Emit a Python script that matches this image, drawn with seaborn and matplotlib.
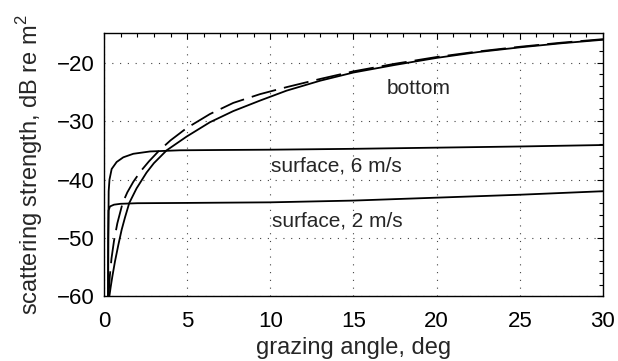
import numpy as np
import pandas as pd
import matplotlib
matplotlib.use("Agg")
import matplotlib.pyplot as plt
import seaborn as sns
from matplotlib.ticker import MultipleLocator

# --- data ---
bottom_x = [0.32, 0.40, 0.50, 0.66, 0.86, 1.06, 1.26, 1.52, 1.96, 2.56, 3.0, 3.77,
            4.97, 6.37, 7.77, 9.38, 10.98, 13.0, 15.0, 17.5, 20.0, 22.5, 25.0, 27.5, 30.0]
bottom_solid = [-60.0, -58.4, -56.6, -54.0, -51.2, -48.6, -46.5, -44.0, -41.5, -38.8, -37.2, -35.0,
                -32.65, -30.2, -28.3, -26.5, -24.8, -23.1, -21.7, -20.4, -19.2, -18.2, -17.4, -16.7, -16.1]

dashed_x = [0.27, 0.35, 0.45, 0.60, 0.80, 1.12, 1.40, 1.76, 2.2, 2.7, 3.3, 4.0,
            4.97, 6.37, 7.77, 9.38, 10.98, 13.0, 15.0, 17.5, 20.0, 22.5, 25.0, 27.5, 30.0]
bottom_dashed = [-60.0, -56.5, -53.5, -50.5, -47.5, -44.0, -42.2, -40.4, -38.6, -36.9, -35.1, -33.3,
                 -31.2, -28.8, -26.9, -25.4, -24.2, -22.8, -21.5, -20.2, -19.05, -18.1, -17.3, -16.6, -16.0]

s6_x = [0.25, 0.26, 0.28, 0.33, 0.46, 0.76, 1.16, 1.76, 2.77, 4.57, 7.0, 10.0, 15.0, 20.0, 25.0, 30.0]
surface_6 = [-60.0, -50.0, -42.0, -40.0, -38.2, -37.0, -36.2, -35.6, -35.2, -35.0, -34.95, -34.9,
             -34.75, -34.55, -34.35, -34.1]

s2_x = [0.24, 0.25, 0.27, 0.36, 0.6, 1.0, 2.0, 5.0, 10.0, 15.0, 20.0, 25.0, 30.0]
surface_2 = [-60.0, -50.0, -45.3, -44.6, -44.3, -44.15, -44.05, -44.0, -43.9, -43.6, -43.1, -42.6, -42.0]

labels = ["bottom", "surface, 6 m/s", "surface, 2 m/s"]
label_x = [18.94, 14.0, 14.0]
label_y = [-25.3, -38.6, -48.0]   # baselines

sns.set_style("white")
plt.rcParams["font.family"] = ["Liberation Sans", "DejaVu Sans"]
plt.rcParams["axes.unicode_minus"] = True
plt.rcParams["mathtext.fontset"] = "custom"
plt.rcParams["mathtext.rm"] = "Liberation Sans"

fig = plt.figure(figsize=(6.18, 3.61), dpi=100)
ax = fig.add_axes([0.1683, 0.1787, 0.8074, 0.729])

lw = 1.3
sns.lineplot(x=bottom_x, y=bottom_solid, ax=ax, color="black", lw=lw, sort=False, estimator=None)
sns.lineplot(x=dashed_x, y=bottom_dashed, ax=ax, color="black", lw=lw, sort=False, estimator=None,
             linestyle=(0, (14, 4.5)))
sns.lineplot(x=s6_x, y=surface_6, ax=ax, color="black", lw=lw, sort=False, estimator=None)
sns.lineplot(x=s2_x, y=surface_2, ax=ax, color="black", lw=lw, sort=False, estimator=None)

for t, x, y in zip(labels, label_x, label_y):
    ax.text(x, y, t, ha="center", va="baseline", fontsize=15)

ax.set_xlim(0, 30)
ax.set_ylim(-60, -15)
ax.xaxis.set_major_locator(MultipleLocator(5))
ax.xaxis.set_minor_locator(MultipleLocator(1))
ax.yaxis.set_major_locator(MultipleLocator(10))
ax.yaxis.set_minor_locator(MultipleLocator(2))
ax.tick_params(which="both", direction="in", top=True, right=True, colors="black",
               labelsize=16, width=0.8)
ax.tick_params(which="major", length=4)
ax.tick_params(which="minor", length=3)
ax.tick_params(axis="x", which="major", pad=10.5)
ax.tick_params(axis="y", which="major", pad=6.5)
ax.grid(True, which="major", linestyle=(0, (1, 6)), color="#444444", lw=0.8)
for s in ax.spines.values():
    s.set_color("black")
    s.set_linewidth(1.0)

ax.set_xlabel("grazing angle, deg", fontsize=17)
ax.set_ylabel("scattering strength, dB re m$^{\\mathregular{2}}$", fontsize=17)
ax.xaxis.set_label_coords(0.5, -0.155)
ax.yaxis.set_label_coords(-0.118, 0.5)

fig.savefig("out.png", dpi=100)
